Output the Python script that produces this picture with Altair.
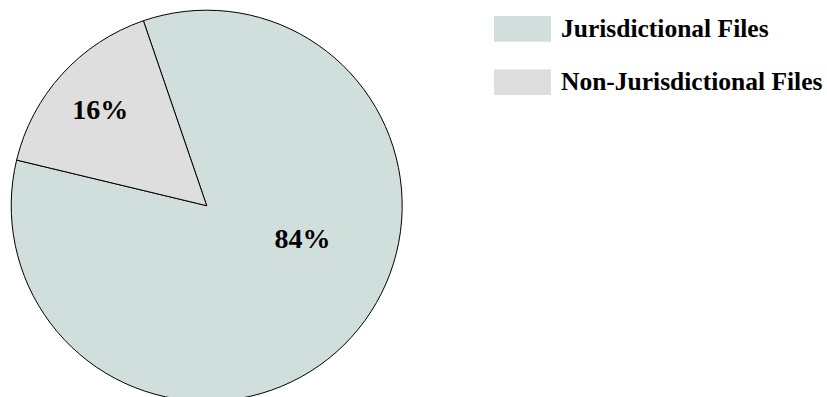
import math
import altair as alt
import pandas as pd

categories = ["Jurisdictional Files", "Non-Jurisdictional Files"]
shares = [84, 16]
labels = ["84%", "16%"]
order = [1, 2]
colors = ["#d0dfdc", "#dedede"]

df = pd.DataFrame({"category": categories, "share": shares, "label": labels, "order": order})

start = 2 * math.pi - math.radians(18.9)
theta_scale = alt.Scale(domain=[0, 100], range=[start, start + 2 * math.pi])
cx, cy = 206.7, 205.7

base = alt.Chart(df).transform_stack(
    stack="share", as_=["s0", "s1"], groupby=[], sort=[alt.SortField("order")]
).transform_calculate(mid="(datum.s0 + datum.s1) / 2")

arcs = base.mark_arc(radius=195.5, stroke="black", strokeWidth=1).encode(
    theta=alt.Theta("s0:Q", scale=theta_scale),
    theta2="s1:Q",
    color=alt.Color(
        "category:N",
        scale=alt.Scale(domain=categories, range=colors),
        legend=alt.Legend(
            orient="none", legendX=494, legendY=0.35, title=None,
            symbolType="M-1,-0.4509 L1,-0.4509 L1,0.4509 L-1,0.4509 Z",
            symbolSize=3249, symbolStrokeWidth=0, symbolOpacity=1,
            labelFont="Liberation Serif", labelFontWeight="bold", labelFontSize=25.5,
            labelColor="black", labelOffset=10, rowPadding=11.2, padding=0, labelLimit=400,
        ),
    ),
    x=alt.value(cx),
    y=alt.value(cy),
)

text_style = dict(font="Liberation Serif", fontWeight="bold", fontSize=28,
                  align="center", baseline="middle", color="black", radius=144)

small_label = base.transform_filter("datum.order == 2").mark_text(dy=2.5, **text_style).encode(
    theta=alt.Theta("mid:Q", scale=theta_scale), text="label:N",
    x=alt.value(cx), y=alt.value(cy),
)
big_label = base.transform_filter("datum.order == 1").mark_text(dx=-10.7, dy=-63, **text_style).encode(
    theta=alt.Theta("mid:Q", scale=theta_scale), text="label:N",
    x=alt.value(cx), y=alt.value(cy),
)

chart = alt.layer(arcs, small_label, big_label).properties(
    width=827, height=397, autosize="none", padding=0
).configure_view(stroke=None)

chart.save("out.html", embed_options={"renderer": "svg", "actions": False})
